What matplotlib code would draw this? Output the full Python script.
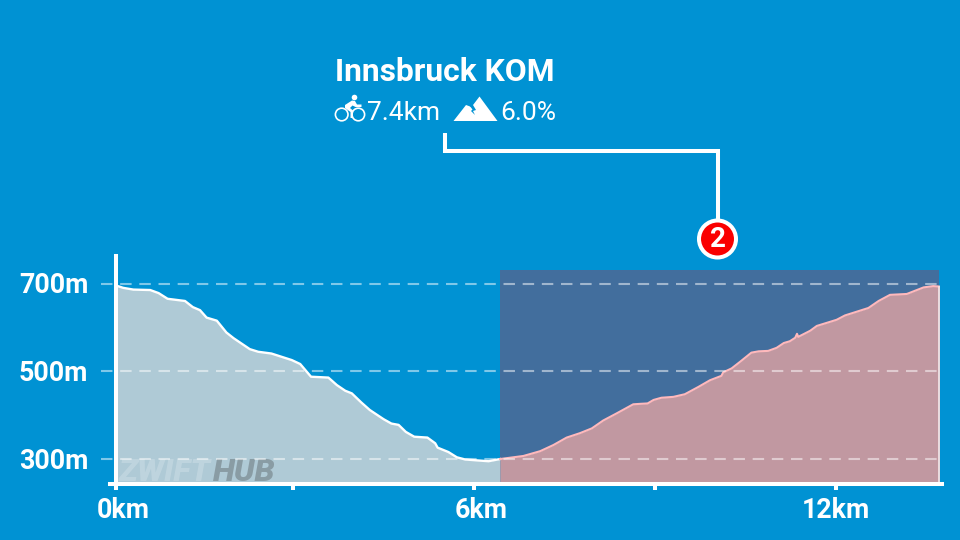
import matplotlib
matplotlib.use('Agg')
import matplotlib.pyplot as plt
from matplotlib.patches import Circle, Polygon, Rectangle
from matplotlib.transforms import ScaledTranslation

plt.rcParams['font.family'] = ['Roboto', 'DejaVu Sans']

# Profile: descent before the climb, then the climb itself
descent_km = [0.00, 0.03, 0.12, 0.29, 0.57, 0.71, 0.86, 1.15, 1.28, 1.40, 1.51, 1.68, 1.84, 1.96,
              2.23, 2.37, 2.59, 2.93, 3.07, 3.25, 3.40, 3.54, 3.68, 3.82, 3.93, 4.09, 4.23, 4.46,
              4.59, 4.71, 4.83, 4.97, 5.19, 5.32, 5.36, 5.54, 5.68, 5.82, 6.01, 6.21, 6.40]
descent_m = [696, 695, 691, 687, 686, 679, 666, 661, 647, 640, 623, 616, 589, 576,
             551, 545, 541, 526, 517, 488, 487, 486, 469, 456, 450, 429, 412, 391,
             381, 378, 362, 351, 349, 336, 326, 316, 304, 299, 297, 295, 300]
climb_km = [6.40, 6.79, 7.07, 7.29, 7.51, 7.73, 7.93, 8.12, 8.34, 8.62, 8.73, 8.86, 8.96, 9.09,
            9.29, 9.48, 9.71, 9.90, 10.09, 10.12, 10.26, 10.40, 10.59, 10.71, 10.87, 11.01,
            11.13, 11.23, 11.32, 11.35, 11.37, 11.57, 11.68, 12.01, 12.15, 12.54, 12.71, 12.90,
            13.18, 13.46, 13.62, 13.72]
climb_m = [300, 307, 318, 332, 349, 359, 370, 388, 404, 425, 426, 427, 435, 440,
           442, 448, 465, 480, 490, 498, 507, 522, 543, 546, 547, 554,
           565, 569, 577, 586, 579, 593, 604, 618, 628, 645, 661, 675,
           677, 692, 695, 694]

# the ticks in the picture are not quite evenly spaced
x_ticks = [0, 2.95, 5.97, 8.98, 12]
x_labels = ['0km', '', '6km', '', '12km']
y_ticks = [300, 500, 700]
y_labels = ['300m', '500m', '700m']
segment_start = 6.40
segment_end = 13.72
segment_top = 732

bg = '#0092D3'

fig = plt.figure(figsize=(9.6, 5.4), dpi=100, facecolor=bg)

ax = fig.add_axes([116 / 960, 56 / 540, 824 / 960, 229 / 540], facecolor='none')
ax.set_xlim(0, 13.733)
ax.set_ylim(243, 766)

# highlighted climb
ax.add_patch(Rectangle((segment_start, 243), segment_end - segment_start, segment_top - 243,
                       facecolor='#426E9D', edgecolor='none', zorder=1))
ax.fill_between(descent_km, descent_m, 243, color='#AFCAD6', linewidth=0, zorder=2)
ax.fill_between(climb_km, climb_m, 243, color='#C198A1', linewidth=0, zorder=2)
ax.plot(descent_km, descent_m, color='white', lw=1.7, zorder=3)
ax.plot(climb_km, climb_m, color='#FFB9BC', lw=1.5, zorder=3)
ax.plot([segment_end, segment_end], [243, climb_m[-1]], color='#EFE3E5', lw=1.3, zorder=3)

# dashed guides run out past the axis on both sides
ax.hlines(y_ticks, -0.25, 13.77, color='white', alpha=0.5, lw=1.5,
          linestyles=(0, (5.5, 3.7)), clip_on=False, zorder=4)

# watermark
ax.text(0.05, 250, 'ZWIFT', fontsize=23, fontweight='black', style='italic',
        color='white', alpha=0.2, va='baseline', zorder=3.5)
ax.text(1.62, 250, 'HUB', fontsize=23, fontweight='black', style='italic',
        color='#333333', alpha=0.3, va='baseline', zorder=3.5)

for side in ['top', 'right']:
    ax.spines[side].set_visible(False)
for side in ['left', 'bottom']:
    ax.spines[side].set_color('white')
    ax.spines[side].set_linewidth(2.9)
    ax.spines[side].set_zorder(6)
ax.spines['bottom'].set_bounds(-0.1, 13.77)
ax.spines['left'].set_bounds(243, 763)

ax.set_xticks(x_ticks, x_labels)
ax.set_yticks(y_ticks, y_labels)
ax.tick_params(axis='x', length=4, width=2.9, color='white', labelcolor='white',
               labelsize=19.3, pad=5.5)
ax.tick_params(axis='y', length=0, labelcolor='white', labelsize=19.3, pad=20)
for lab in ax.get_xticklabels() + ax.get_yticklabels():
    lab.set_fontweight('bold')

# 0km and 6km sit a little right of their ticks
ticks = ax.xaxis.get_major_ticks()
for i, dx in [(0, 7), (2, 7)]:
    lab = ticks[i].label1
    lab.set_transform(lab.get_transform() + ScaledTranslation(dx / 100, 0, fig.dpi_scale_trans))
for tick in ax.yaxis.get_major_ticks():
    lab = tick.label1
    lab.set_transform(lab.get_transform() + ScaledTranslation(0, 1 / 100, fig.dpi_scale_trans))

# overlay in pixel coordinates for the header and the callout
over = fig.add_axes([0, 0, 1, 1], facecolor='none')
over.set_xlim(0, 960)
over.set_ylim(540, 0)
over.axis('off')

over.text(445, 81, 'Innsbruck KOM', color='white', fontsize=22.9, fontweight='bold',
          ha='center', va='baseline')
over.text(366.5, 120, '7.4km', color='white', fontsize=19, ha='left', va='baseline')
over.text(500.5, 120, '6.0%', color='white', fontsize=19, ha='left', va='baseline')

# bike icon
for cx in [341.7, 358.3]:
    over.add_patch(Circle((cx, 114.5), 6.3, facecolor='none', edgecolor='white', lw=1.2))
over.add_patch(Circle((354.5, 97.5), 2.8, facecolor='white', edgecolor='none'))
over.add_patch(Polygon([(345, 105), (352, 100.5), (355, 101), (357, 104.5), (361.5, 104.5),
                        (361.5, 107), (355.5, 107), (352.5, 105.5), (350, 108), (353, 110.5),
                        (353, 118), (350.5, 118), (350.5, 112), (345, 108)],
                       facecolor='white', edgecolor='none'))

# mountain icon
over.add_patch(Polygon([(453.5, 121), (466, 105), (471.5, 107), (479.5, 96.5), (497.5, 121)],
                       facecolor='white', edgecolor='none'))
over.add_patch(Polygon([(469, 105), (473, 105), (476, 110), (473, 111), (475, 115), (471, 111), (472.5, 109.5)],
                       facecolor=bg, edgecolor='none'))

# callout
over.plot([444.5, 444.5, 717.5, 717.5], [133, 151, 151, 222], color='white', lw=2.9,
          solid_joinstyle='miter', solid_capstyle='butt')
over.add_patch(Circle((717.5, 239), 18.5, facecolor='#FA0000', edgecolor='white', lw=2.9, zorder=5))
over.text(717.5, 239.5, '2', color='white', fontsize=20, fontweight='bold',
          ha='center', va='center', zorder=6)

fig.savefig('out.png', dpi=100, facecolor=bg)
